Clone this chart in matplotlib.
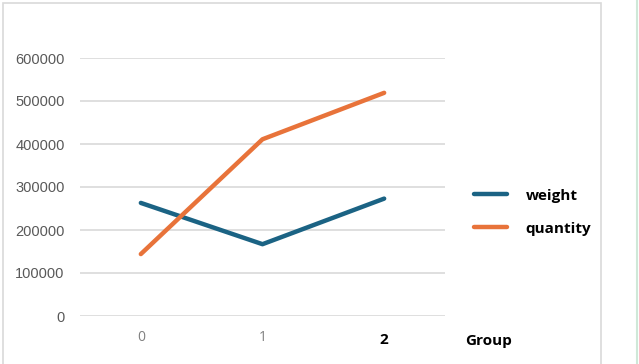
import matplotlib
matplotlib.use("Agg")
import matplotlib.pyplot as plt
from matplotlib.patches import Rectangle

groups = [0, 1, 2]
tick_labels = ["0", "1", "2"]
weight = [263000, 167000, 273000]
quantity = [144000, 411000, 519000]
yticks = [0, 100000, 200000, 300000, 400000, 500000, 600000]

W, H = 639, 364
fig = plt.figure(figsize=(W / 100, H / 100), dpi=100)
fig.patch.set_facecolor("white")

# outer chart frame
fig.add_artist(Rectangle((3 / W, -0.1), (601 - 3) / W, 1.1 - 3 / H,
                         transform=fig.transFigure, fill=False,
                         edgecolor="#d9d9d9", linewidth=1.2))
fig.add_artist(plt.Line2D([637 / W, 637 / W], [0, 1], transform=fig.transFigure,
                          color="#cfe8d8", linewidth=1.5))

ax = fig.add_axes([80 / W, (H - 316) / H, (445 - 80) / W, (316 - 58) / H])
ax.set_xlim(-0.5, 2.5)
ax.set_ylim(0, 600000)

for s in ax.spines.values():
    s.set_visible(False)
ax.set_yticks(yticks)
ax.set_yticklabels([str(v) for v in yticks], fontfamily="Liberation Sans",
                   fontsize=10.5, color="#595959")
ax.tick_params(axis="both", length=0)
ax.tick_params(axis="y", pad=11)
ax.grid(axis="y", color="#d9d9d9", linewidth=1.2)
ax.set_axisbelow(True)

ax.set_xticks(groups)
ax.set_xticklabels(tick_labels)
ax.tick_params(axis="x", pad=10)
for i, lbl in enumerate(ax.get_xticklabels()):
    if i == 2:
        lbl.set_fontfamily("Open Sans")
        lbl.set_fontweight("bold")
        lbl.set_fontsize(11)
        lbl.set_color("black")
        lbl.set_y(-0.012)
    else:
        lbl.set_fontfamily("Open Sans")
        lbl.set_fontsize(10)
        lbl.set_color("#808080")

l1, = ax.plot(groups, weight, color="#1b6384", linewidth=3.2,
              solid_capstyle="round", label="weight")
l2, = ax.plot(groups, quantity, color="#e8733a", linewidth=3.2,
              solid_capstyle="round", label="quantity")

fig.text(465 / W, (H - 341) / H, "Group", fontfamily="Open Sans",
         fontweight="bold", fontsize=11, color="black", va="center", ha="left")

leg = fig.legend(handles=[l1, l2], loc="upper left",
                 bbox_to_anchor=(460 / W, (H - 175) / H),
                 frameon=False, handlelength=2.15, handletextpad=1.25,
                 labelspacing=1.25,
                 prop={"family": "Open Sans", "weight": "bold", "size": 11})
for t in leg.get_texts():
    t.set_color("black")

fig.savefig("out.png", dpi=100, facecolor="white")
